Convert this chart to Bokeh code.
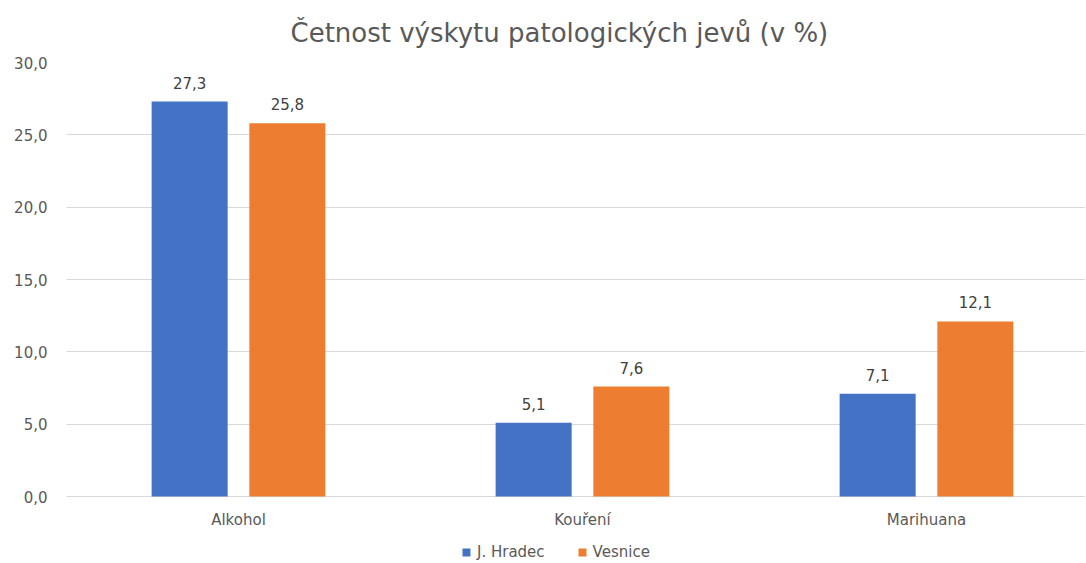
from bokeh.plotting import figure
from bokeh.models import (ColumnDataSource, Range1d, FixedTicker, CustomJSTickFormatter,
                          Legend, LegendItem, Title)
from bokeh.core.properties import value
from bokeh.embed import file_html
from bokeh.resources import INLINE

categories = ["Alkohol", "Kouření", "Marihuana"]
series_names = ["J. Hradec", "Vesnice"]
j_hradec = [27.3, 5.1, 7.1]
vesnice = [25.8, 7.6, 12.1]
y_ticks = [0, 5, 10, 15, 20, 25, 30]

colors = ["#4472C4", "#ED7D31"]
FONT = "DejaVu Sans"
GREY = "#595959"

# frame extends below the zero line so the category labels and legend sit inside it
px_per_unit = 434 / 30
y_bottom = -(500 - 434) / px_per_unit

p = figure(frame_width=1019, frame_height=500, output_backend="svg", toolbar_location=None,
           x_range=Range1d(0, 1019 / 344), y_range=Range1d(y_bottom, 30),
           min_border_left=66, min_border_right=0, min_border_top=0, min_border_bottom=0)
p.outline_line_color = None
p.background_fill_color = "white"
p.border_fill_color = "white"

centers = [i + 0.5 for i in range(len(categories))]
bw = 0.221
off = 0.142
renderers = []
for vals, col, sign in [(j_hradec, colors[0], -1), (vesnice, colors[1], 1)]:
    xs = [c + sign * off for c in centers]
    src = ColumnDataSource(dict(x=xs, top=vals,
                                lab=[("%.1f" % v).replace(".", ",") for v in vals]))
    r = p.vbar(x="x", top="top", width=bw, bottom=0, source=src,
               fill_color=col, line_color=None)
    renderers.append(r)
    p.text(x="x", y="top", text="lab", source=src, text_align="center",
           text_baseline="bottom", y_offset=-13, text_font=value(FONT),
           text_font_size="15px", text_color="#404040")

# category labels below the zero line
cat_src = ColumnDataSource(dict(x=centers, y=[0] * len(categories), name=categories))
p.text(x="x", y="y", text="name", source=cat_src, text_align="center",
       text_baseline="middle", y_offset=23, text_font=value(FONT),
       text_font_size="15px", text_color=GREY)

title = Title(text="Četnost výskytu patologických jevů (v %)", align="left",
              text_font=FONT, text_font_size="26px", text_font_style="normal",
              text_color=GREY, offset=224, standoff=30)
p.add_layout(title, "above")

# y axis
p.yaxis.ticker = FixedTicker(ticks=y_ticks)
p.yaxis.formatter = CustomJSTickFormatter(code="return tick.toFixed(1).replace('.', ',');")
p.yaxis.axis_line_color = None
p.yaxis.major_tick_line_color = None
p.yaxis.minor_tick_line_color = None
p.yaxis.major_label_text_font = FONT
p.yaxis.major_label_text_font_size = "15px"
p.yaxis.major_label_text_color = GREY
p.yaxis.major_label_standoff = 13

p.xaxis.visible = False
p.xgrid.grid_line_color = None
p.ygrid.grid_line_color = "#D9D9D9"
p.ygrid.grid_line_width = 1

legend = Legend(items=[LegendItem(label=n, renderers=[r]) for n, r in zip(series_names, renderers)],
                orientation="horizontal", location=(395, 1),
                label_text_font=FONT, label_text_font_size="15px", label_text_color=GREY,
                glyph_width=10, glyph_height=10, spacing=32, label_standoff=6,
                border_line_color=None, background_fill_alpha=0, padding=0, margin=0)
p.add_layout(legend, "center")

open("out.html", "w").write(file_html(p, INLINE))
